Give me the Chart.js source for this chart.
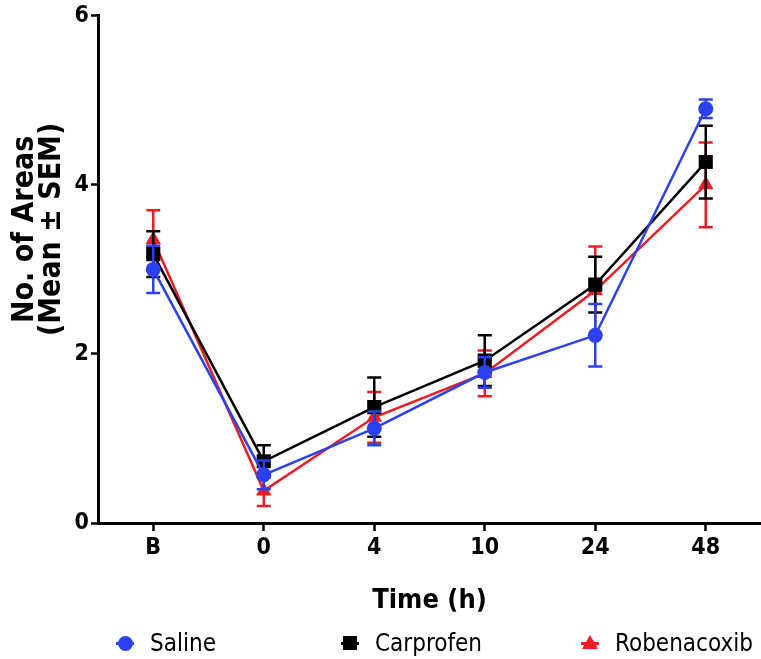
<!DOCTYPE html>
<html lang="en">
<head>
  <meta charset="UTF-8">
  <title>No. of Areas over Time</title>
  <style>
    body {
      margin: 0;
      background: #fff;
      font-family: 'DejaVu Sans Condensed', 'DejaVu Sans', Arial, sans-serif;
    }
    .wrap {
      position: relative;
      width: 761px;
      height: 659px;
    }
    .legend {
      position: absolute;
      top: 628px;
      left: 0;
      width: 761px;
      height: 30px;
    }
    .item {
      position: absolute;
      top: 0;
      height: 30px;
      line-height: 30px;
      font-size: 24px;
      color: #000;
    }
    .mark {
      position: absolute;
      top: 15px;
      width: 18px;
      height: 2.5px;
      margin-top: -1px;
    }
    .mark span {
      position: absolute;
      left: 50%;
      top: 50%;
    }
  </style>
</head>
<body>
  <div class="wrap">
    <canvas id="chart" width="761" height="659"></canvas>
    <div class="legend" id="legend"></div>
  </div>

  <script src="https://cdn.jsdelivr.net/npm/chart.js@4.4.1/dist/chart.umd.min.js"></script>
  <script>
    // data
    const timeLabels = ['B', '0', '4', '10', '24', '48'];
    const seriesNames = ['Saline', 'Carprofen', 'Robenacoxib'];
    const salineMean = [3.0, 0.57, 1.12, 1.78, 2.22, 4.9];
    const salineSem = [0.28, 0.17, 0.2, 0.18, 0.37, 0.11];
    const carprofenMean = [3.18, 0.73, 1.37, 1.92, 2.82, 4.27];
    const carprofenSem = [0.27, 0.19, 0.35, 0.3, 0.33, 0.43];
    const robenacoxibMean = [3.35, 0.38, 1.25, 1.77, 2.75, 4.0];
    const robenacoxibSem = [0.35, 0.18, 0.3, 0.27, 0.52, 0.5];
    const yTicks = [0, 2, 4, 6];
    const yTitle = ['No. of Areas', '(Mean \u00b1 SEM)'];

    const BLUE = '#2b41f0';
    const RED = '#ec1c24';
    const BLACK = '#000000';
    const FONT = "'DejaVu Sans Condensed', 'DejaVu Sans', Arial, sans-serif";

    const sems = [salineSem, carprofenSem, robenacoxibSem];

    // draws mean +/- SEM bars for each dataset right after it is drawn
    const errorBars = {
      id: 'errorBars',
      afterDatasetDraw(chart, args) {
        const i = args.index;
        const ds = chart.data.datasets[i];
        const meta = chart.getDatasetMeta(i);
        const y = chart.scales.y;
        const ctx = chart.ctx;
        ctx.save();
        ctx.strokeStyle = ds.borderColor;
        ctx.lineWidth = 2.5;
        meta.data.forEach((pt, j) => {
          const v = ds.data[j];
          const e = sems[i][j];
          const top = y.getPixelForValue(v + e);
          const bot = y.getPixelForValue(v - e);
          ctx.beginPath();
          ctx.moveTo(pt.x, top);
          ctx.lineTo(pt.x, bot);
          ctx.moveTo(pt.x - 7, top);
          ctx.lineTo(pt.x + 7, top);
          ctx.moveTo(pt.x - 7, bot);
          ctx.lineTo(pt.x + 7, bot);
          ctx.stroke();
        });
        ctx.restore();
      }
    };

    // y title sits a bit above the middle of the axis in the original
    const yAxisTitle = {
      id: 'yAxisTitle',
      afterDraw(chart) {
        const ctx = chart.ctx;
        const area = chart.chartArea;
        const cy = (area.top + area.bottom) / 2 - 40;
        ctx.save();
        ctx.fillStyle = BLACK;
        ctx.font = 'bold 30px ' + FONT;
        ctx.textAlign = 'center';
        ctx.textBaseline = 'middle';
        ctx.translate(25, cy);
        ctx.rotate(-Math.PI / 2);
        ctx.fillText(yTitle[0], 0, 0);
        ctx.fillText(yTitle[1], 0, 27);
        ctx.restore();
      }
    };

    function makeSet(label, data, color, style, radius) {
      return {
        label: label,
        data: data,
        borderColor: color,
        backgroundColor: color,
        borderWidth: 2.5,
        pointStyle: style,
        pointRadius: radius,
        pointHoverRadius: radius,
        pointBorderWidth: 0,
        tension: 0
      };
    }

    const ctx = document.getElementById('chart').getContext('2d');
    new Chart(ctx, {
      type: 'line',
      data: {
        labels: timeLabels,
        datasets: [
          makeSet(seriesNames[0], salineMean, BLUE, 'circle', 7.5),
          makeSet(seriesNames[1], carprofenMean, BLACK, 'rect', 10),
          makeSet(seriesNames[2], robenacoxibMean, RED, 'triangle', 9)
        ]
      },
      options: {
        responsive: false,
        animation: false,
        layout: { autoPadding: false, padding: { top: 12, right: 0, bottom: 30, left: 0 } },
        plugins: {
          legend: { display: false },
          tooltip: { enabled: false }
        },
        scales: {
          x: {
            offset: true,
            border: { color: BLACK, width: 3 },
            grid: {
              display: true,
              drawOnChartArea: false,
              offset: false,
              color: BLACK,
              tickColor: BLACK,
              tickWidth: 2.5,
              tickLength: 8
            },
            ticks: {
              color: BLACK,
              padding: 3,
              font: { family: FONT, size: 23, weight: 'bold' }
            },
            title: {
              display: true,
              text: 'Time (h)',
              color: BLACK,
              padding: { top: 0, bottom: 12 },
              font: { family: FONT, size: 27, weight: 'bold' }
            },
            afterFit(scale) { scale.height = 106; }
          },
          y: {
            min: 0,
            max: 6,
            border: { color: BLACK, width: 3 },
            grid: {
              display: true,
              drawOnChartArea: false,
              color: BLACK,
              tickColor: BLACK,
              tickWidth: 2.5,
              tickLength: 7
            },
            afterBuildTicks(scale) {
              scale.ticks = yTicks.map(v => ({ value: v }));
            },
            ticks: {
              color: BLACK,
              padding: 2,
              font: { family: FONT, size: 23, weight: 'bold' }
            },
            title: { display: false },
            afterFit(scale) { scale.width = 98; }
          }
        }
      },
      plugins: [errorBars, yAxisTitle]
    });

    // legend under the chart
    const legendPos = [[116, 150], [341, 375], [581, 615]];
    const shapes = [
      'width:15px;height:15px;margin:-7.5px 0 0 -7.5px;border-radius:50%;background:' + BLUE,
      'width:14px;height:14px;margin:-7px 0 0 -7px;background:' + BLACK,
      'width:0;height:0;margin:-8px 0 0 -8px;border-left:8px solid transparent;border-right:8px solid transparent;border-bottom:14px solid ' + RED
    ];
    const colors = [BLUE, BLACK, RED];
    const legend = document.getElementById('legend');
    seriesNames.forEach((name, i) => {
      const mark = document.createElement('div');
      mark.className = 'mark';
      mark.style.left = legendPos[i][0] + 'px';
      mark.style.background = colors[i];
      const s = document.createElement('span');
      s.style.cssText = shapes[i];
      mark.appendChild(s);
      legend.appendChild(mark);
      const t = document.createElement('div');
      t.className = 'item';
      t.style.left = legendPos[i][1] + 'px';
      t.textContent = name;
      legend.appendChild(t);
    });
  </script>
</body>
</html>
